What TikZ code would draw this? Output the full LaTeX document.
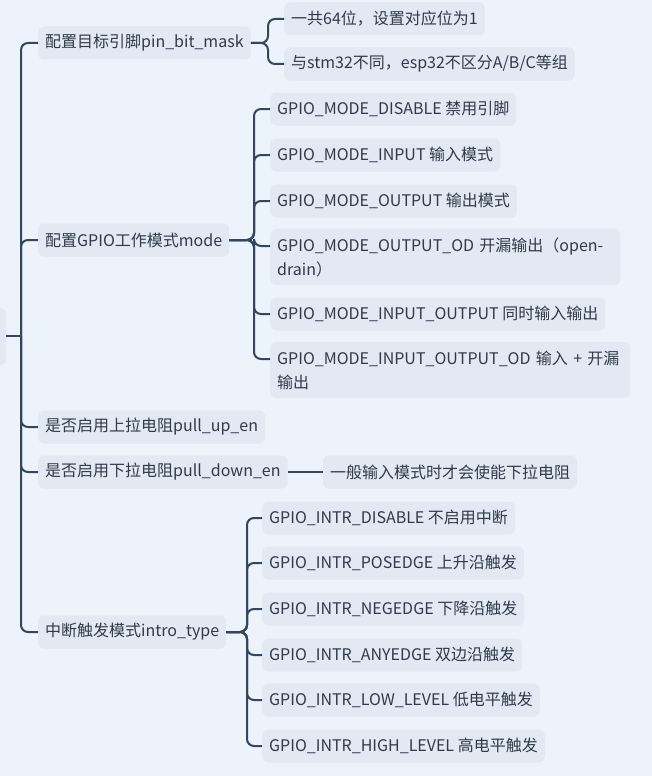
\documentclass[tikz,border=0pt]{standalone}
\usepackage{fontspec}
\setmainfont{Noto Sans CJK SC}
\definecolor{bgc}{HTML}{EDF3FA}
\definecolor{nodec}{HTML}{E2E9F2}
\definecolor{linec}{HTML}{34465E}
\definecolor{textc}{HTML}{2F3A4A}
\begin{document}
\begin{tikzpicture}[x=1pt,y=-1pt,
  box/.style={fill=nodec,rounded corners=6pt,anchor=west,inner xsep=7pt,minimum height=33pt,text=textc,font=\fontsize{16}{24}\selectfont},
  tall/.style={box,text width=#1,align=left,minimum height=56pt,inner ysep=4pt},
  con/.style={draw=linec,line width=2pt,rounded corners=7pt}]
\fill[bgc] (0,0) rectangle (652,776);
\useasboundingbox (0,0) rectangle (652,776);
\fill[nodec,rounded corners=6pt] (-20,308) rectangle (6,365);
\coordinate (root) at (6,336);
% level 1
\node[box] (a) at (38,43) {配置目标引脚pin\_bit\_mask};
\node[box] (b) at (38,240) {配置GPIO工作模式mode};
\node[box] (c) at (38,427) {是否启用上拉电阻pull\_up\_en};
\node[box] (d) at (38,472) {是否启用下拉电阻pull\_down\_en};
\node[box] (e) at (38,632) {中断触发模式intro\_type};
% A children
\node[box] (a1) at (284,19) {一共64位，设置对应位为1};
\node[box] (a2) at (284,64) {与stm32不同，esp32不区分A/B/C等组};
% B children
\node[box] (b1) at (270,109) {GPIO\_MODE\_DISABLE 禁用引脚};
\node[box] (b2) at (270,155) {GPIO\_MODE\_INPUT 输入模式};
\node[box] (b3) at (270,201) {GPIO\_MODE\_OUTPUT 输出模式};
\node[tall=336pt] (b4) at (270,257) {GPIO\_MODE\_OUTPUT\_OD 开漏输出（open-\\drain）};
\node[box] (b5) at (270,314) {GPIO\_MODE\_INPUT\_OUTPUT 同时输入输出};
\node[tall=346pt] (b6) at (270,370) {GPIO\_MODE\_INPUT\_OUTPUT\_OD 输入 + 开漏\\输出};
% D child
\node[box] (d1) at (323,472) {一般输入模式时才会使能下拉电阻};
% E children
\node[box] (e1) at (262,518) {GPIO\_INTR\_DISABLE 不启用中断};
\node[box] (e2) at (262,563) {GPIO\_INTR\_POSEDGE 上升沿触发};
\node[box] (e3) at (262,609) {GPIO\_INTR\_NEGEDGE 下降沿触发};
\node[box] (e4) at (262,655) {GPIO\_INTR\_ANYEDGE 双边沿触发};
\node[box] (e5) at (262,700) {GPIO\_INTR\_LOW\_LEVEL 低电平触发};
\node[box] (e6) at (262,746) {GPIO\_INTR\_HIGH\_LEVEL 高电平触发};
% connectors
\draw[con] (root) -- (21,336);
\foreach \n in {a,b,c,d,e} \draw[con] (21,336) |- (\n.west);
\foreach \n in {a1,a2} \draw[con] (a.east) -- (268,43) |- (\n.west);
\foreach \n/\yy in {b1/109,b2/155,b3/201,b4/246,b5/314,b6/359} \draw[con] (b.east) -- (254,240) |- (270,\yy);
\draw[con] (d.east) -- (d1.west);
\foreach \n in {e1,e2,e3,e4,e5,e6} \draw[con] (e.east) -- (247,632) |- (\n.west);
\end{tikzpicture}
\end{document}
